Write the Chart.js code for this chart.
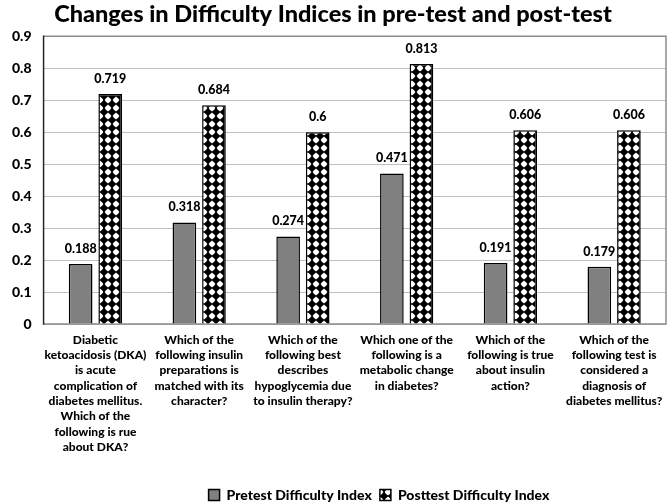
<!DOCTYPE html>
<html>
<head>
<meta charset="utf-8">
<script src="https://cdn.jsdelivr.net/npm/chart.js@4/dist/chart.umd.min.js"></script>
<style>
  html, body { margin: 0; padding: 0; background: #fff; }
  #wrap { width: 669px; height: 503px; }
</style>
</head>
<body>
<div id="wrap"><canvas id="chart"></canvas></div>
<script>
const questions = [
    ["Diabetic", "ketoacidosis (DKA)", "is acute", "complication of", "diabetes mellitus.", "Which of the", "following is rue", "about DKA?"],
    ["Which of the", "following insulin", "preparations is", "matched with its", "character?"],
    ["Which of the", "following best", "describes", "hypoglycemia due", "to insulin therapy?"],
    ["Which one of the", "following is a", "metabolic change", "in diabetes?"],
    ["Which of the", "following is true", "about insulin", "action?"],
    ["Which of the", "following test is", "considered a", "diagnosis of", "diabetes mellitus?"]
];
const pretest = [0.188, 0.318, 0.274, 0.471, 0.191, 0.179];
const posttest = [0.719, 0.684, 0.6, 0.813, 0.606, 0.606];
const yTicks = [0, 0.1, 0.2, 0.3, 0.4, 0.5, 0.6, 0.7, 0.8, 0.9];

const FONT = "Lato, 'Open Sans', sans-serif";
const W = "900";

// black with white dots, like the printed fill
function dotPattern() {
    const c = document.createElement("canvas");
    c.width = 8; c.height = 8;
    const g = c.getContext("2d");
    g.fillStyle = "#000";
    g.fillRect(0, 0, 8, 8);
    g.fillStyle = "#fff";
    g.beginPath();
    g.moveTo(4, 0.6); g.lineTo(7.4, 4); g.lineTo(4, 7.4); g.lineTo(0.6, 4);
    g.closePath();
    g.fill();
    g.beginPath();
    g.arc(4, 4, 2.6, 0, Math.PI * 2);
    g.fill();
    return g.createPattern(c, "repeat");
}
const pattern = dotPattern();

const valueLabels = {
    id: "valueLabels",
    afterDatasetsDraw(chart) {
        const ctx = chart.ctx;
        ctx.save();
        ctx.font = W + " 12.5px " + FONT;
        ctx.fillStyle = "#000";
        ctx.textAlign = "center";
        ctx.textBaseline = "middle";
        chart.data.datasets.forEach((ds, i) => {
            chart.getDatasetMeta(i).data.forEach((bar, j) => {
                ctx.fillText(String(ds.data[j]), bar.x, bar.y - 15);
            });
        });
        ctx.restore();
    }
};

const frame = {
    id: "frame",
    beforeDatasetsDraw(chart) {
        const a = chart.chartArea;
        const ctx = chart.ctx;
        ctx.save();
        ctx.lineWidth = 1.5;
        ctx.strokeStyle = "#8c8c8c";
        ctx.beginPath();
        ctx.moveTo(a.left, a.top); ctx.lineTo(a.right, a.top);
        ctx.lineTo(a.right, a.bottom); ctx.lineTo(a.left, a.bottom);
        ctx.stroke();
        ctx.strokeStyle = "#262626";
        ctx.beginPath();
        ctx.moveTo(a.left, a.top - 0.75); ctx.lineTo(a.left, a.bottom + 0.75);
        ctx.stroke();
        ctx.restore();
    }
};

// the legend sits a bit right of centre and near the bottom edge
const legendShift = {
    id: "legendShift",
    afterLayout(chart) {
        const lg = chart.legend;
        lg.left += 46; lg.right += 46;
        lg.top += 25; lg.bottom += 25;
    }
};

new Chart(document.getElementById("chart"), {
    type: "bar",
    data: {
        labels: questions,
        datasets: [
            {
                label: "Pretest Difficulty Index",
                data: pretest,
                backgroundColor: "#808080",
                borderColor: "#000",
                borderWidth: 1.5,
                borderSkipped: "bottom",
                barPercentage: 0.8,
                categoryPercentage: 0.57
            },
            {
                label: "Posttest Difficulty Index",
                data: posttest,
                backgroundColor: pattern,
                borderColor: "#000",
                borderWidth: 1.5,
                borderSkipped: "bottom",
                barPercentage: 0.8,
                categoryPercentage: 0.57
            }
        ]
    },
    options: {
        responsive: true,
        maintainAspectRatio: false,
        animation: false,
        layout: { padding: { left: 0, right: 3, top: 0, bottom: 16 } },
        plugins: {
            title: {
                display: true,
                text: "Changes in Difficulty Indices in pre-test and post-test",
                color: "#000",
                font: { family: FONT, size: 23.5, weight: W },
                padding: { top: 0, bottom: 8 }
            },
            legend: {
                position: "bottom",
                labels: {
                    color: "#000",
                    font: { family: FONT, size: 14, weight: W },
                    boxWidth: 11,
                    boxHeight: 11,
                    padding: 8
                }
            },
            tooltip: { enabled: false }
        },
        scales: {
            x: {
                grid: { display: false },
                border: { display: false },
                ticks: {
                    color: "#000",
                    maxRotation: 0,
                    autoSkip: false,
                    padding: 0,
                    font: { family: FONT, size: 12, weight: W, lineHeight: 1.28 }
                }
            },
            y: {
                min: 0,
                max: 0.9,
                afterBuildTicks(axis) {
                    axis.ticks = yTicks.map(v => ({ value: v }));
                },
                grid: { color: "#bfbfbf", lineWidth: 1, drawTicks: false },
                border: { display: false },
                ticks: {
                    color: "#000",
                    padding: 12,
                    font: { family: FONT, size: 14, weight: W }
                }
            }
        }
    },
    plugins: [frame, valueLabels, legendShift]
});
</script>
</body>
</html>
